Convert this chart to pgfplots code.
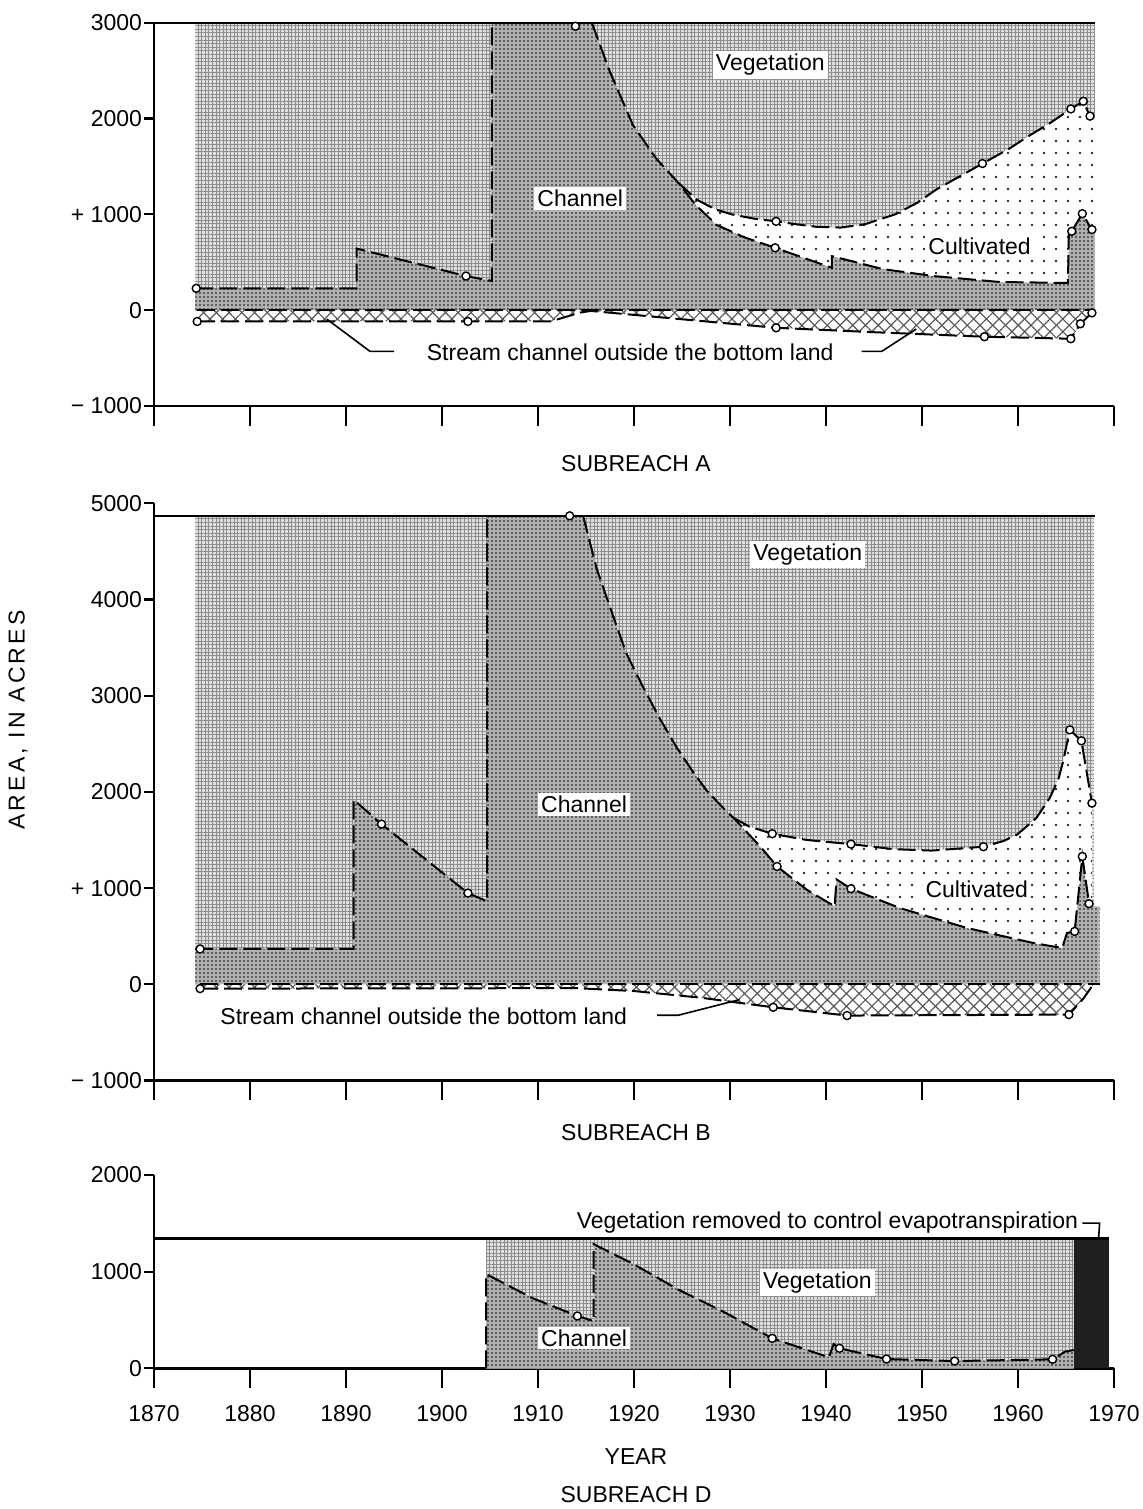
\documentclass[border=0pt]{standalone}
\usepackage{fontspec}
\setmainfont{Liberation Sans}
\usepackage{pgfplots}
\pgfplotsset{compat=1.18}
\usetikzlibrary{patterns.meta}

\tikzset{lab/.style={fill=white, inner sep=1.5pt}}
\pgfplotsset{
  panel/.style={
    scale only axis, width=480pt, anchor=north west,
    xmin=1870, xmax=1970, xtick=\empty,
    extra x ticks={1870,1880,...,1970},
    extra x tick style={major tick length=10pt, tick align=outside},
    axis x line*=bottom, axis y line*=left,
    axis line style={line width=1.2pt},
    tick style={black, line width=1.1pt},
    tick align=outside, major tick length=5pt,
    yticklabel style={xshift=2.5pt},
    clip=false,
  },
  veg/.style={draw=none, fill=black!12,
    postaction={pattern color=black!45, pattern={Hatch[angle=0,distance=1.8pt,line width=0.5pt]}}},
  chan/.style={draw=none, fill=black!30,
    postaction={pattern color=black!75, pattern={Dots[distance=2pt,radius=0.55pt]}}},
  cult/.style={draw=none, fill=white,
    postaction={pattern color=black!85, pattern={Dots[distance=6pt,radius=0.65pt]}}},
  hatch/.style={draw=none, fill=white,
    postaction={pattern color=black!65, pattern={Lines[angle=45,distance=4.5pt,line width=0.6pt]}},
    postaction={pattern color=black!65, pattern={Lines[angle=-45,distance=4.5pt,line width=0.6pt]}}},
  bound/.style={black, line width=1pt, dash pattern=on 9pt off 3pt},
  total/.style={black, line width=1.1pt},
  pts/.style={only marks, mark=*, mark size=2pt,
    mark options={fill=white, draw=black, line width=0.7pt, solid}},
  leader/.style={black, line width=0.8pt},
}

\begin{document}
\begin{tikzpicture}[font=\fontsize{11.5}{13.8}\selectfont]
\useasboundingbox (-77pt,0pt) rectangle (494.5pt,-754.5pt);

% ---------------- Subreach A
\begin{axis}[panel, at={(0pt,-11.35pt)}, height=191.65pt,
  ymin=-1000, ymax=3000, ytick={-1000,0,1000,2000,3000},
  yticklabels={− 1000,0,+ 1000,2000,3000}, extra x tick labels={}]
\addplot[veg] coordinates {(1874.3,0) (1874.3,3000) (1968,3000) (1968,0)} --cycle;
\addplot[chan] coordinates {(1874.3,0) (1874.3,228) (1891.1,228) (1891.1,643) (1902.5,356)
  (1905.2,304) (1905.2,3000) (1915.6,3000) (1917.5,2485) (1919.9,1930) (1922.3,1584)
  (1924.6,1330) (1926.5,1090) (1928.6,890) (1931.5,760) (1934.7,651) (1940.6,442)
  (1940.6,564) (1945.9,429) (1951.2,356) (1958.1,294) (1965.2,284) (1965.3,823)
  (1965.6,823) (1966.7,1007) (1967.7,841) (1968,841) (1968,0)} --cycle;
\addplot[cult] coordinates {(1924.6,1330) (1926.5,1155) (1928.5,1050) (1930.3,997)
  (1932.5,955) (1934.8,927) (1937,895) (1939,870) (1941.5,862) (1944,895) (1947.2,1000)
  (1949.5,1120) (1951.5,1260) (1954,1400) (1956.3,1530) (1959,1680) (1961,1810)
  (1963.3,1950) (1965.5,2100) (1966.8,2180) (1967.5,2025) (1968,2000) (1968,841)
  (1967.7,841) (1966.7,1007) (1965.6,823) (1965.3,823) (1965.2,284) (1958.1,294)
  (1951.2,356) (1945.9,429) (1940.6,564) (1940.6,442) (1934.7,651) (1931.5,760)
  (1928.6,890) (1926.5,1090)} --cycle;
\addplot[hatch] coordinates {(1874.5,0) (1874.5,-118) (1911.3,-118) (1914.4,-25)
  (1915.5,-8) (1925,-95) (1934.8,-184) (1945,-230) (1956.5,-277) (1965.5,-298)
  (1966.5,-142) (1967.7,-28) (1968,0)} --cycle;
\addplot[total] coordinates {(1870,3000) (1968,3000)};
\addplot[bound] coordinates {(1874.3,228) (1891.1,228) (1891.1,643) (1902.5,356)
  (1905.2,304) (1905.2,3000)};
\addplot[bound] coordinates {(1915.6,3000) (1917.5,2485) (1919.9,1930) (1922.3,1584)
  (1924.6,1330) (1926.5,1090) (1928.6,890) (1931.5,760) (1934.7,651) (1940.6,442)
  (1940.6,564) (1945.9,429) (1951.2,356) (1958.1,294) (1965.2,284) (1965.3,823)
  (1965.6,823) (1966.7,1007) (1967.7,841)};
\addplot[bound] coordinates {(1924.6,1330) (1926.5,1155) (1928.5,1050) (1930.3,997)
  (1932.5,955) (1934.8,927) (1937,895) (1939,870) (1941.5,862) (1944,895) (1947.2,1000)
  (1949.5,1120) (1951.5,1260) (1954,1400) (1956.3,1530) (1959,1680) (1961,1810)
  (1963.3,1950) (1965.5,2100) (1966.8,2180) (1967.5,2025)};
\addplot[bound] coordinates {(1874.5,0) (1968,0)};
\addplot[bound] coordinates {(1874.5,-118) (1911.3,-118) (1914.4,-25) (1915.5,-8)
  (1925,-95) (1934.8,-184) (1945,-230) (1956.5,-277) (1965.5,-298) (1966.5,-142)
  (1967.7,-28) (1968,0)};
\addplot[pts] coordinates {(1874.4,228) (1902.5,356) (1913.9,2963) (1934.7,651)
  (1965.6,823) (1966.7,1007) (1967.7,841) (1934.8,927) (1956.3,1530) (1965.5,2100)
  (1966.8,2180) (1967.5,2025) (1874.5,-118) (1902.7,-118) (1934.8,-184) (1956.5,-277)
  (1965.5,-298) (1966.5,-142) (1967.7,-28)};
\addplot[leader] coordinates {(1895.0,-430) (1892.5,-430) (1888.0,-93)};
\addplot[leader] coordinates {(1943.7,-430) (1945.8,-430) (1949.4,-197)};
\node[lab] at (axis cs:1934.2,2558) {Vegetation};
\node[lab] at (axis cs:1914.4,1166) {Channel};
\node[lab] at (axis cs:1956.0,668) {Cultivated};
\node at (axis cs:1919.6,-440) {Stream channel outside the bottom land};
\end{axis}

% ---------------- Subreach B
\begin{axis}[panel, at={(0pt,-251.65pt)}, height=288.6pt,
  ymin=-1000, ymax=5000, ytick={-1000,0,1000,2000,3000,4000,5000},
  yticklabels={− 1000,0,+ 1000,2000,3000,4000,5000}, extra x tick labels={}]
\addplot[veg] coordinates {(1874.3,0) (1874.3,4870) (1967.9,4870) (1967.9,0)} --cycle;
\addplot[chan] coordinates {(1874.3,0) (1874.3,367) (1890.8,367) (1890.8,1918)
  (1893.7,1665) (1902.7,948) (1904.7,862) (1904.7,4870) (1914.7,4870) (1916.1,4323)
  (1917.5,3920) (1919.2,3440) (1921.0,3080) (1922.7,2760) (1924.4,2470) (1926.2,2200)
  (1927.6,2010) (1929.7,1790) (1930.4,1727) (1933.3,1415) (1934.9,1225) (1938.0,983)
  (1940.9,810) (1941.1,1090) (1942.6,994) (1947.7,792) (1954.7,585) (1961.6,429)
  (1964.6,377) (1965.1,533) (1965.9,550) (1966.7,1329) (1967.4,838) (1967.6,810)
  (1968.5,810) (1968.5,0)} --cycle;
\addplot[cult] coordinates {(1930.4,1727) (1932,1640) (1934.4,1565) (1938,1500)
  (1942.6,1457) (1947,1405) (1951,1390) (1956.4,1430) (1958.5,1490) (1959.9,1555)
  (1961.9,1727) (1963.3,1935) (1964.2,2130) (1964.7,2316) (1965.4,2645) (1966.6,2531)
  (1967.7,1883) (1967.7,820) (1967.4,838) (1966.7,1329) (1965.9,550) (1965.1,533)
  (1964.6,377) (1961.6,429) (1954.7,585) (1947.7,792) (1942.6,994) (1941.1,1090)
  (1940.9,810) (1938.0,983) (1934.9,1225) (1933.3,1415)} --cycle;
\addplot[hatch] coordinates {(1874.8,0) (1874.8,-45) (1914,-40) (1920,-70) (1927,-140)
  (1934.5,-239) (1942.2,-325) (1965.3,-315) (1966.8,-150) (1967.7,-21) (1968,0)} --cycle;
\addplot[total] coordinates {(1870,4870) (1968,4870)};
\addplot[bound] coordinates {(1874.3,367) (1890.8,367) (1890.8,1918) (1893.7,1665)
  (1902.7,948) (1904.7,862) (1904.7,4870)};
\addplot[bound] coordinates {(1914.7,4870) (1916.1,4323) (1917.5,3920) (1919.2,3440)
  (1921.0,3080) (1922.7,2760) (1924.4,2470) (1926.2,2200) (1927.6,2010) (1929.7,1790)
  (1930.4,1727) (1933.3,1415) (1934.9,1225) (1938.0,983) (1940.9,810) (1941.1,1090)
  (1942.6,994) (1947.7,792) (1954.7,585) (1961.6,429) (1964.6,377) (1965.1,533)
  (1965.9,550) (1966.7,1329) (1967.4,838)};
\addplot[bound] coordinates {(1930.4,1727) (1932,1640) (1934.4,1565) (1938,1500)
  (1942.6,1457) (1947,1405) (1951,1390) (1956.4,1430) (1958.5,1490) (1959.9,1555)
  (1961.9,1727) (1963.3,1935) (1964.2,2130) (1964.7,2316) (1965.4,2645) (1966.6,2531)
  (1967.7,1883)};
\addplot[bound] coordinates {(1874.8,0) (1968.5,0)};
\addplot[bound] coordinates {(1874.8,-45) (1914,-40) (1920,-70) (1927,-140)
  (1934.5,-239) (1942.2,-325) (1965.3,-315) (1966.8,-150) (1967.7,-21)};
\addplot[pts] coordinates {(1874.8,367) (1893.7,1665) (1902.7,948) (1913.3,4870)
  (1934.9,1225) (1942.6,994) (1965.9,550) (1966.7,1329) (1967.4,838) (1934.4,1565)
  (1942.6,1457) (1956.4,1430) (1965.4,2645) (1966.6,2531) (1967.7,1883) (1874.8,-45)
  (1934.5,-239) (1942.2,-325) (1965.3,-315)};
\addplot[leader] coordinates {(1922.4,-322) (1924.6,-322) (1931.0,-159)};
\node[lab] at (axis cs:1938.1,4465) {Vegetation};
\node[lab] at (axis cs:1914.8,1869) {Channel};
\node[lab] at (axis cs:1955.7,986) {Cultivated};
\node at (axis cs:1898.1,-332) {Stream channel outside the bottom land};
\end{axis}

% ---------------- Subreach D
\begin{axis}[panel, at={(0pt,-587.5pt)}, height=96.65pt,
  ymin=0, ymax=2000, ytick={0,1000,2000}, yticklabels={0,1000,2000},
  extra x tick labels={1870,1880,1890,1900,1910,1920,1930,1940,1950,1960,1970},
  extra x tick style={major tick length=10pt, tick align=outside,
    xticklabel style={yshift=-5pt}}]
\addplot[veg] coordinates {(1904.6,0) (1904.6,1344) (1965.8,1344) (1965.8,0)} --cycle;
\addplot[chan] coordinates {(1904.6,0) (1904.6,975) (1909.4,727) (1914.1,541)
  (1915.8,489) (1915.8,1285) (1919.8,1086) (1924.7,810) (1929.5,576) (1934.4,310)
  (1940.3,114) (1940.8,251) (1941.4,207) (1946.3,96) (1953.4,75) (1963.6,93)
  (1964.9,172) (1965.8,190) (1965.8,0)} --cycle;
\addplot[draw=none, fill=black!88] coordinates {(1965.8,0) (1965.8,1335) (1969.5,1335)
  (1969.5,0)} --cycle;
\addplot[total] coordinates {(1870,1344) (1969.5,1344)};
\addplot[bound] coordinates {(1904.6,0) (1904.6,975) (1909.4,727) (1914.1,541)
  (1915.8,489) (1915.8,1285) (1919.8,1086) (1924.7,810) (1929.5,576) (1934.4,310)
  (1940.3,114) (1940.8,251) (1941.4,207) (1946.3,96) (1953.4,75) (1963.6,93)
  (1964.9,172) (1965.8,190)};
\addplot[pts] coordinates {(1914.1,541) (1934.4,310) (1941.4,207) (1946.3,96)
  (1953.4,75) (1963.6,93)};
\addplot[leader] coordinates {(1966.7,1503) (1968.5,1503) (1968.4,1348)};
\node[lab] at (axis cs:1939.1,890) {Vegetation};
\node[lab] at (axis cs:1914.8,314) {Channel};
\node[anchor=east, inner sep=1pt] at (axis cs:1966.5,1510)
  {Vegetation removed to control evapotranspiration};
\end{axis}

\node[rotate=90] at (-68pt,-360pt) {\addfontfeatures{LetterSpace=14}AREA, IN ACRES};
\node at (241pt,-232pt) {SUBREACH A};
\node at (241pt,-566.5pt) {SUBREACH B};
\node at (241pt,-728.5pt) {YEAR};
\node at (241pt,-747.5pt) {SUBREACH D};
\end{tikzpicture}
\end{document}
